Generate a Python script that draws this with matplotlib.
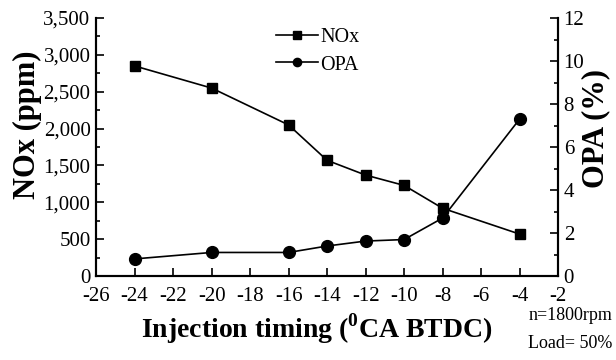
import matplotlib
matplotlib.use("Agg")
import matplotlib.pyplot as plt
from matplotlib.ticker import MultipleLocator, FuncFormatter

plt.rcParams["font.family"] = ["Liberation Serif", "DejaVu Serif"]
plt.rcParams["mathtext.fontset"] = "custom"
plt.rcParams["mathtext.rm"] = "Liberation Serif"
plt.rcParams["mathtext.bf"] = "Liberation Serif:bold"

timing = [-24, -20, -16, -14, -12, -10, -8, -4]
nox = [2850, 2550, 2050, 1570, 1370, 1230, 920, 570]
opa = [0.8, 1.1, 1.1, 1.4, 1.63, 1.7, 2.7, 7.3]

fig = plt.figure(figsize=(6.16, 3.6), dpi=100)
ax = fig.add_axes([0.156, 0.233, 0.75, 0.717])
ax2 = ax.twinx()

l1, = ax.plot(timing, nox, color="black", lw=1.2, marker="s", ms=7.5, label="NOx")
l2, = ax2.plot(timing, opa, color="black", lw=1.2, marker="o", ms=8.5, label="OPA")

ax.set_xlim(-26, -2)
ax.set_ylim(0, 3500)
ax2.set_ylim(0, 12)
ax.xaxis.set_major_locator(MultipleLocator(2))
ax.yaxis.set_major_locator(MultipleLocator(500))
ax.yaxis.set_minor_locator(MultipleLocator(250))
ax2.yaxis.set_major_locator(MultipleLocator(2))
ax2.yaxis.set_minor_locator(MultipleLocator(1))
ax.yaxis.set_major_formatter(FuncFormatter(lambda v, p: "{:,}".format(int(v))))
ax.xaxis.set_major_formatter(FuncFormatter(lambda v, p: "{:d}".format(int(v))))

for a in (ax, ax2):
    a.spines["top"].set_visible(False)
    for s in a.spines.values():
        s.set_linewidth(1.5)
    a.tick_params(which="both", direction="in", labelsize=15, width=1.2)
    a.tick_params(which="major", length=6)
    a.tick_params(which="minor", length=3)
ax.tick_params(axis="x", pad=8)
ax.tick_params(axis="y", pad=4)
ax2.tick_params(axis="y", pad=4)

ax.set_xlabel(r"Injection timing ($^{\mathbf{0}}$CA BTDC)", fontsize=20, fontweight="bold")
ax.xaxis.set_label_coords(0.478, -0.135)
ax.set_ylabel("NOx (ppm)", fontsize=22, fontweight="bold")
ax.yaxis.set_label_coords(-0.117, 0.585)
ax2.set_ylabel("OPA (%)", fontsize=22, fontweight="bold")
ax2.yaxis.set_label_coords(1.05, 0.57)

ax.legend(handles=[l1, l2], loc="upper left", bbox_to_anchor=(0.428, 0.955), bbox_transform=fig.transFigure,
          frameon=False, fontsize=14.5, handlelength=2.1, handletextpad=0.1, labelspacing=0.4,
          borderpad=0.1, markerscale=0.7)

fig.text(0.994, 0.124, "n=1800rpm", ha="right", va="center", fontsize=13)
fig.text(0.994, 0.045, "Load= 50%", ha="right", va="center", fontsize=13)

fig.savefig("out.png", dpi=100)
